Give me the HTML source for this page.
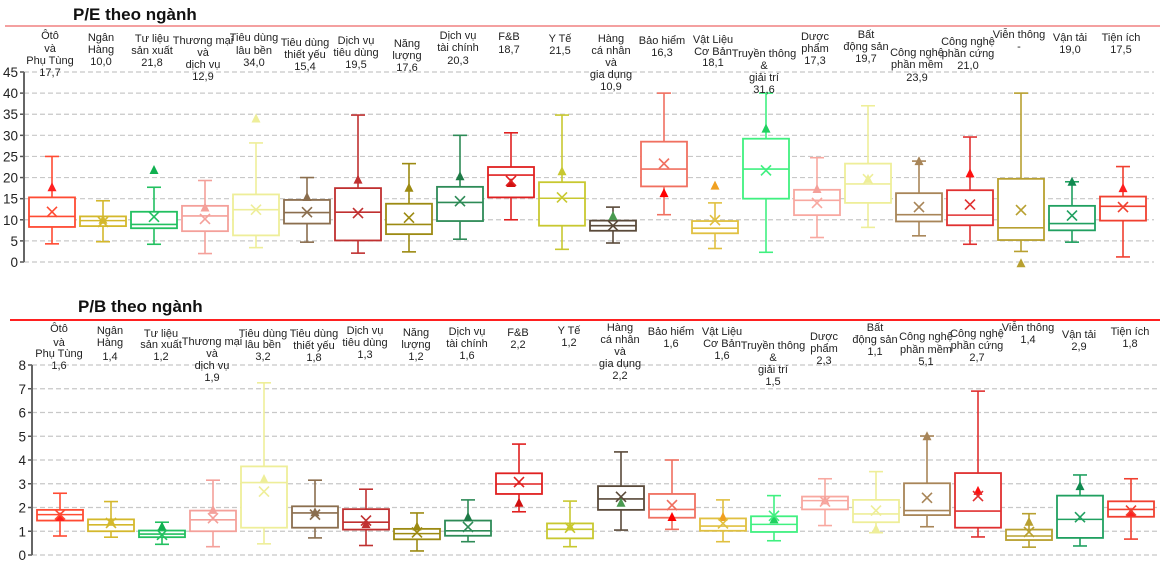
<!DOCTYPE html>
<html><head><meta charset="utf-8">
<style>
html,body{margin:0;padding:0;background:#fff;}
svg{display:block;font-family:"Liberation Sans","DejaVu Sans",sans-serif;}
</style></head>
<body>
<svg id="c" width="1171" height="562" viewBox="0 0 1171 562" xmlns="http://www.w3.org/2000/svg">
<text x="73" y="20" font-size="17" font-weight="bold" fill="#111">P/E theo ngành</text>
<line x1="5" y1="26" x2="1160" y2="26" stroke="#f4a0a0" stroke-width="2"/>
<text x="78" y="312" font-size="17" font-weight="bold" fill="#111">P/B theo ngành</text>
<line x1="10" y1="320" x2="1160" y2="320" stroke="#ff2020" stroke-width="2"/>
<g id="pe"></g>
<g id="pb"></g>
</svg>
<script>
const categories=[["Ôtô","và","Phụ Tùng"],["Ngân","Hàng"],["Tư liệu","sản xuất"],["Thương mại","và","dịch vụ"],["Tiêu dùng","lâu bền"],["Tiêu dùng","thiết yếu"],["Dịch vụ","tiêu dùng"],["Năng","lượng"],["Dịch vụ","tài chính"],["F&B"],["Y Tế"],["Hàng","cá nhân","và","gia dụng"],["Bảo hiểm"],["Vật Liệu","Cơ Bản"],["Truyền thông","&","giải trí"],["Dược","phẩm"],["Bất","động sản"],["Công nghệ","phần mềm"],["Công nghệ","phần cứng"],["Viễn thông"],["Vận tải"],["Tiện ích"]];
const colors=["#ff4b33","#d4b82c","#22c060","#f4a09a","#eeee99","#8b6e4e","#c03030","#9c8a12","#2e8b57","#e02020","#c8c830","#5a4a3a","#f07060","#e0c040","#40f080","#f8a8a0","#eeee99","#a88558","#e03030","#b8a030","#20a060","#f04030"];
const triColors=["#ff2020","#d4b82c","#10b050","#f4a09a","#eeee99","#8b6e4e","#c03030","#9c8a12","#1e7b47","#d01010","#c8c830","#4a9a50","#ff0000","#f0a020","#20d060","#f4a09a","#eeee99","#a88558","#ff1010","#b8a030","#108a50","#ff2020"];
// P/E
const peLabels=["17,7","10,0","21,8","12,9","34,0","15,4","19,5","17,6","20,3","18,7","21,5","10,9","16,3","18,1","31,6","17,3","19,7","23,9","21,0","-","19,0","17,5"];
const peMin=[4.3,4.8,4.2,2,3.4,4.7,2.1,2.4,5.4,10,3,4.5,11.2,3.2,2.3,5.8,8.2,6.2,4.2,2.5,4.7,1.2];
const peQ1=[8.3,8.5,8,7.3,6.3,9.1,5.1,6.6,9.7,15.3,8.6,7.4,17.9,6.8,15,11.1,14,9.6,8.7,5.2,7.5,9.8];
const peMed=[10.8,9.8,8.9,10.9,12.4,11.7,11.8,8.9,14.1,20.6,15.1,8.6,22,8,22,14.6,18.5,11.2,11.1,8.1,9.1,13.2];
const peQ3=[15.3,10.8,11.9,13.3,16,14.7,17.5,13.8,17.8,22.5,18.9,9.8,28.5,9.7,29.2,17.1,23.3,16.3,17,19.7,13.3,15.5];
const peMax=[25,14.5,17.7,19.3,28.2,20,34.8,23.3,30,30.6,34.8,13,40,14,40,24.7,37,23.9,29.6,40,19,22.6];
const peMean=[11.9,9.5,10.7,10.2,12.4,11.8,11.6,10.5,14.4,19.2,15.3,8.6,23.3,9.9,21.7,14,19.6,13,13.6,12.3,11,13];
const peTri=[17.7,10.0,21.8,12.9,34.0,15.4,19.5,17.6,20.3,18.7,21.5,10.9,16.3,18.1,31.6,17.3,19.7,23.9,21.0,-0.3,19.0,17.5];
const peTicks=[0,5,10,15,20,25,30,35,40,45];
const peLabelY=[[35,48,60,72],[37,49,61],[38,50,62],[40,52,64,76],[37,50,62],[42,54,66],[40,52,64],[43,55,67],[35,47,60],[36,49],[38,50],[38,50,62,74,86],[40,52],[39,51,62],[53,65,77,89],[36,48,60],[34,46,58],[52,64,77],[41,53,65],[34,46],[37,49],[37,49]];
// P/B
const pbLabels=["1,6","1,4","1,2","1,9","3,2","1,8","1,3","1,2","1,6","2,2","1,2","2,2","1,6","1,6","1,5","2,3","1,1","5,1","2,7","1,4","2,9","1,8"];
const pbMin=[0.8,0.75,0.45,0.35,0.47,0.72,0.4,0.17,0.56,1.82,0.35,1.05,1.08,0.56,0.6,1.24,0.94,1.19,0.76,0.33,0.38,0.67];
const pbQ1=[1.45,1.0,0.75,1.0,1.15,1.15,1.07,0.66,0.81,2.57,0.7,1.9,1.57,1.02,0.97,1.92,1.38,1.68,1.15,0.63,0.72,1.61];
const pbMed=[1.7,1.27,0.88,1.48,3.05,1.77,1.38,0.9,1.02,2.99,1.08,2.36,1.92,1.22,1.29,2.29,1.73,1.87,1.85,0.8,1.5,1.92];
const pbQ3=[1.9,1.5,1.03,1.87,3.73,2.05,1.93,1.1,1.45,3.44,1.33,2.9,2.57,1.54,1.63,2.46,2.32,3.02,3.45,1.07,2.5,2.26];
const pbMax=[2.6,2.25,1.38,3.15,7.25,3.15,2.77,1.77,2.32,4.67,2.27,4.34,4.0,2.32,2.5,3.21,3.51,5.01,6.9,1.74,3.37,3.21];
const pbMean=[1.7,1.35,0.85,1.55,2.67,1.7,1.45,0.95,1.18,3.07,1.15,2.45,2.1,1.33,1.65,2.25,1.87,2.41,2.48,0.97,1.59,1.87];
const pbTri=[1.6,1.4,1.2,1.9,3.2,1.8,1.3,1.2,1.6,2.2,1.2,2.2,1.6,1.6,1.5,2.3,1.1,5.0,2.7,1.4,2.9,1.8];
const pbTicks=[0,1,2,3,4,5,6,7,8];
const pbLabelY=[[328,342,353,365],[330,342,356],[333,344,356],[341,353,365,377],[333,344,356],[333,345,357],[330,342,354],[332,344,356],[331,343,355],[332,344],[330,342],[327,339,351,363,375],[331,343],[331,343,355],[345,357,369,381],[336,348,360],[327,339,351],[336,349,361],[333,345,357],[327,339],[334,346],[331,343]];

const NS="http://www.w3.org/2000/svg";
function mk(parent,tag,attrs){const e=document.createElementNS(NS,tag);for(const k in attrs)e.setAttribute(k,attrs[k]);parent.appendChild(e);return e;}

function draw(gid,cfg){
  const g=document.getElementById(gid);
  const y=v=>cfg.y0-(v-cfg.vmin)*(cfg.y0-cfg.y1)/(cfg.vmax-cfg.vmin);
  const x=i=>cfg.x0+i*cfg.step;
  cfg.ticks.forEach(t=>{
    const gl=mk(g,'line',{x1:cfg.ax,x2:cfg.gx2,y1:y(t),y2:y(t),stroke:'#c8c8c8','stroke-width':1.2,'stroke-dasharray':'5,3'});
    
    
    const tk=mk(g,'line',{x1:cfg.ax-4,x2:cfg.ax,y1:y(t),y2:y(t),stroke:'#555','stroke-width':1.5});
    
    
    const tl=mk(g,'text',{x:cfg.ax-6,y:y(t)+5,'text-anchor':'end','font-size':13.5,fill:'#222'});
    tl.textContent=t;
    
    
  });
  const axl=mk(g,'line',{x1:cfg.ax,x2:cfg.ax,y1:y(cfg.ticks[cfg.ticks.length-1]),y2:y(0),stroke:'#666','stroke-width':2});
  
  
  categories.forEach((cat,i)=>{
    const cx=x(i),c=colors[i],w=46,hw=w/2,cap=7;
    const bg=mk(g,'g',{});
    
    
    const sw=1.6;
    mk(bg,'line',{x1:cx,x2:cx,y1:y(cfg.max[i]),y2:y(cfg.q3[i]),stroke:c,'stroke-width':sw});
    mk(bg,'line',{x1:cx,x2:cx,y1:y(cfg.q1[i]),y2:y(cfg.min[i]),stroke:c,'stroke-width':sw});
    mk(bg,'line',{x1:cx-cap,x2:cx+cap,y1:y(cfg.max[i]),y2:y(cfg.max[i]),stroke:c,'stroke-width':sw});
    mk(bg,'line',{x1:cx-cap,x2:cx+cap,y1:y(cfg.min[i]),y2:y(cfg.min[i]),stroke:c,'stroke-width':sw});
    mk(bg,'rect',{x:cx-hw,y:y(cfg.q3[i]),width:w,height:y(cfg.q1[i])-y(cfg.q3[i]),fill:'#fff',stroke:c,'stroke-width':1.8});
    mk(bg,'line',{x1:cx-hw,x2:cx+hw,y1:y(cfg.med[i]),y2:y(cfg.med[i]),stroke:c,'stroke-width':sw});
    const ty=y(cfg.tri[i]);
    const tri=mk(bg,'polygon',{points:`${cx-4.5},${ty+4} ${cx+4.5},${ty+4} ${cx},${ty-5}`,fill:triColors[i]});
    
    
    const my=y(cfg.mean[i]),s=5;
    mk(bg,'path',{d:`M${cx-s},${my-s}L${cx+s},${my+s}M${cx+s},${my-s}L${cx-s},${my+s}`,stroke:c,'stroke-width':1.6,fill:'none'});
    const lines=cat.slice();
    if(!(cfg.skipDash && i===19 && cfg.labels[i]!=='-')) lines.push(cfg.labels[i]);
    const tg=mk(g,'g',{});
    
    
    lines.forEach((ln,k)=>{
      const t=mk(tg,'text',{x:cx+cfg.lx,y:cfg.ly[i][k]+4,'text-anchor':'middle','font-size':11,fill:'#222'});
      t.textContent=ln;
    });
  });
}
draw('pe',{y0:262,y1:72,vmin:0,vmax:45,x0:52,step:51,ax:24,gx2:1154,ticks:peTicks,labels:peLabels,min:peMin,q1:peQ1,med:peMed,q3:peQ3,max:peMax,mean:peMean,tri:peTri,ly:peLabelY,lx:-2});
draw('pb',{y0:555,y1:365,vmin:0,vmax:8,x0:60,step:51,ax:32,gx2:1158,ticks:pbTicks,labels:pbLabels,min:pbMin,q1:pbQ1,med:pbMed,q3:pbQ3,max:pbMax,mean:pbMean,tri:pbTri,ly:pbLabelY,lx:-1});
</script>
</body></html>
